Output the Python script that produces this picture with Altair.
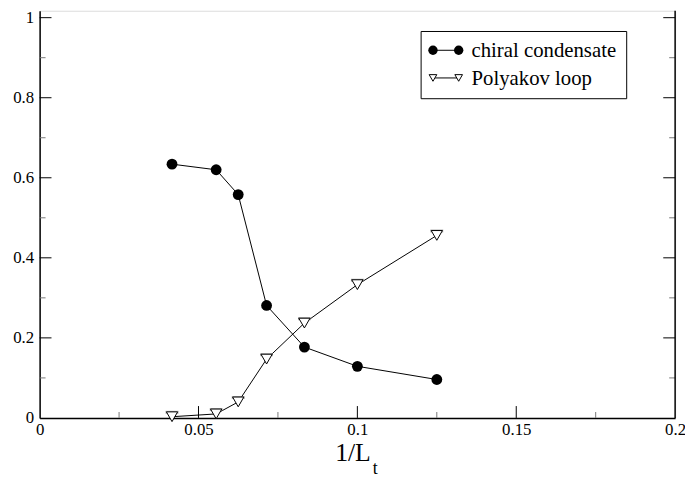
import altair as alt
import pandas as pd

# data
inv_lt = [1/24, 1/18, 1/16, 1/14, 1/12, 1/10, 1/8]
chiral = [0.634, 0.620, 0.558, 0.281, 0.177, 0.129, 0.096]
polyakov = [0.003, 0.010, 0.040, 0.147, 0.237, 0.333, 0.456]
polyakov_err = [0.011, 0.011, 0.011, 0.011, 0.011, 0.011, 0.011]

x_major = [0.05, 0.1, 0.15]
x_minor = [0.025, 0.075, 0.125, 0.175]
y_major = [0.2, 0.4, 0.6, 0.8, 1.0]
y_minor = [0.1, 0.3, 0.5, 0.7, 0.9]
x_labels = [0, 0.05, 0.1, 0.15, 0.2]
y_labels = [0, 0.2, 0.4, 0.6, 0.8, 1.0]

W, H = 643, 412
FONT = "'Liberation Serif', 'Times New Roman', Times, serif"

df = pd.DataFrame({
    "x": inv_lt * 2,
    "y": chiral + polyakov,
    "series": ["chiral condensate"] * 7 + ["Polyakov loop"] * 7,
})
dp = pd.DataFrame({"x": inv_lt, "y": polyakov, "top": [p + e for p, e in zip(polyakov, polyakov_err)]})
dc = pd.DataFrame({"x": inv_lt, "y": chiral})

xs = alt.Scale(domain=[0, 0.2], nice=False, zero=False)
ys = alt.Scale(domain=[0, 1.0173], nice=False, zero=False)

xaxis = alt.Axis(values=x_labels, format="~g", ticks=False, tickSize=0, grid=False,
                 domainColor="black", domainWidth=1.5, labelFont=FONT, labelFontSize=17,
                 labelColor="black", labelPadding=4, title=None, labelFlush=False)
yaxis = alt.Axis(values=y_labels, format="~g", ticks=False, tickSize=0, grid=False,
                 domainColor="black", domainWidth=1.5, labelFont=FONT, labelFontSize=17,
                 labelColor="black", labelPadding=6, title=None, labelFlush=False)

base = alt.Chart(df)
lines = base.mark_line(color="black", strokeWidth=1).encode(
    x=alt.X("x:Q", scale=xs, axis=xaxis),
    y=alt.Y("y:Q", scale=ys, axis=yaxis),
    detail="series:N",
)

caps = alt.Chart(dp).mark_tick(color="#888888", thickness=3, size=13, orient="horizontal").encode(
    x=alt.X("x:Q", scale=xs), y=alt.Y("top:Q", scale=ys))
tri = alt.Chart(dp).mark_point(shape="triangle-down", fill="white", filled=True, stroke="black",
                               strokeWidth=1, size=130, opacity=1).encode(
    x=alt.X("x:Q", scale=xs), y=alt.Y("y:Q", scale=ys))
circ = alt.Chart(dc).mark_point(shape="circle", filled=True, color="black", size=120, opacity=1).encode(
    x=alt.X("x:Q", scale=xs), y=alt.Y("y:Q", scale=ys))

# inward ticks
def xt(vals, length, color):
    return alt.Chart(pd.DataFrame({"v": vals})).mark_rule(color=color, strokeWidth=1).encode(
        x=alt.X("v:Q", scale=xs), y=alt.value(H), y2=alt.value(H - length))

def yt(vals, length, color, right=False):
    x0 = W if right else 0
    x1 = W - length if right else length
    return alt.Chart(pd.DataFrame({"v": vals})).mark_rule(color=color, strokeWidth=1).encode(
        y=alt.Y("v:Q", scale=ys), x=alt.value(x0), x2=alt.value(x1))

one = pd.DataFrame({"a": [0]})
right_border = alt.Chart(one).mark_rule(color="black", strokeWidth=1.5).encode(
    x=alt.value(W), y=alt.value(0), y2=alt.value(H))

# legend
leg_box = alt.Chart(one).mark_rect(fill="white", stroke="black", strokeWidth=1).encode(
    x=alt.value(386), x2=alt.value(594), y=alt.value(21), y2=alt.value(89))
leg_l1 = alt.Chart(one).mark_rule(color="black", strokeWidth=1).encode(
    x=alt.value(398), x2=alt.value(424), y=alt.value(40))
leg_l2 = alt.Chart(one).mark_rule(color="black", strokeWidth=1).encode(
    x=alt.value(398), x2=alt.value(424), y=alt.value(68))
leg_c = alt.layer(*[alt.Chart(one).mark_point(shape="circle", filled=True, color="black", size=90, opacity=1)
                    .encode(x=alt.value(px), y=alt.value(40)) for px in (398, 424)])
leg_t = alt.layer(*[alt.Chart(one).mark_point(shape="triangle-down", filled=True, fill="white", stroke="black",
                                              strokeWidth=1, size=60, opacity=1)
                    .encode(x=alt.value(px), y=alt.value(68)) for px in (398, 424)])
leg_txt1 = alt.Chart(one).mark_text(text="chiral condensate", font=FONT, fontSize=21, align="left",
                                    baseline="middle", color="black").encode(x=alt.value(437), y=alt.value(41))
leg_txt2 = alt.Chart(one).mark_text(text="Polyakov loop", font=FONT, fontSize=21, align="left",
                                    baseline="middle", color="black").encode(x=alt.value(437), y=alt.value(69))

# x title
t_main = alt.Chart(one).mark_text(text="1/L", font=FONT, fontSize=26, align="left",
                                  baseline="alphabetic", color="black").encode(x=alt.value(299), y=alt.value(456))
t_sub = alt.Chart(one).mark_text(text="t", font=FONT, fontSize=18, align="left",
                                 baseline="alphabetic", color="black").encode(x=alt.value(337), y=alt.value(469))

chart = alt.layer(
    lines, caps, tri, circ,
    xt(x_major, 12, "black"), xt(x_minor, 6, "#777777"),
    yt(y_major, 12, "black"), yt(y_minor, 6, "#777777"),
    yt(y_major, 12, "black", True), yt(y_minor, 6, "#777777", True),
    right_border,
    leg_box, leg_l1, leg_l2, leg_c, leg_t, leg_txt1, leg_txt2,
    t_main, t_sub,
).properties(
    width=W, height=H,
    autosize=alt.AutoSizeParams(type="none"),
    padding={"left": 32, "top": 0, "right": 10, "bottom": 58},
).configure_view(stroke=None).configure(background="white")

chart.save("out.html", embed_options={"renderer": "svg", "actions": False})
